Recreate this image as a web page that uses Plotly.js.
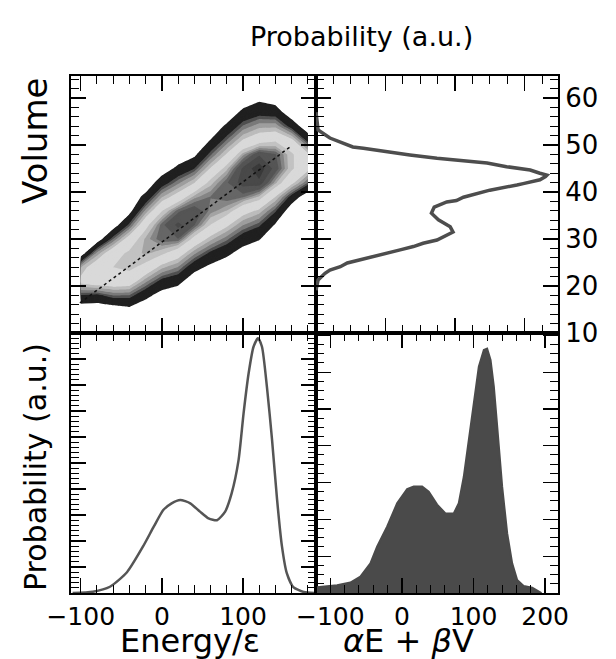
<!DOCTYPE html>
<html>
<head>
<meta charset="utf-8">
<script src="https://cdn.plot.ly/plotly-3.0.1.min.js"></script>
<style>
html,body{margin:0;padding:0;background:#fff;}
#chart{width:616px;height:659px;}
</style>
</head>
<body>
<div id="chart"></div>
<script>
// ---------- DATA ----------
// Top-left: 2D probability map (contour), Energy (columns) x Volume (rows)
const gridEnergy = [-100, -80, -60, -40, -20, 0, 20, 40, 60, 80, 100, 120, 140, 160, 180];
const gridVolume = [12, 15, 18, 21, 24, 27, 30, 33, 36, 39, 42, 45, 48, 51, 54, 57, 60, 63];
const densityMap = [
  [0,0,0,0,0,0,0,0,0,0,0,0,0,0,0],
  [0,0,0.16,0.59,0,0,0,0,0,0,0,0,0,0,0],
  [2.41,2.17,3.0,2.95,1.42,0.4,0,0,0,0,0,0,0,0,0],
  [5.47,6.14,6.24,6.0,3.8,2.06,1.47,0,0,0,0,0,0,0,0],
  [4.22,6.26,6.8,7.08,6.36,4.52,3.55,1.55,0.64,0,0,0,0,0,0],
  [0,3.83,6.24,7.04,7.64,7.09,5.89,3.78,2.24,1.37,0.36,0,0,0,0],
  [0,0,3.0,5.81,7.64,8.64,8.69,6.34,4.52,3.18,1.73,1.09,0,0,0],
  [0,0,0.16,2.74,6.36,8.53,9.6,8.77,6.77,5.29,3.63,2.68,0.84,0,0],
  [0,0,0,0.45,3.8,6.75,8.56,9.23,8.16,7.47,5.67,4.72,2.64,0,0],
  [0,0,0,0,1.42,4.19,5.73,7.72,8.32,8.67,8.4,7.42,5.02,1.99,0],
  [0,0,0,0,0,1.82,3.39,4.93,7.26,8.62,9.79,9.94,7.68,5.39,2.95],
  [0,0,0,0,0,0.18,1.37,2.47,5.12,7.35,9.58,10.57,9.12,7.03,5.42],
  [0,0,0,0,0,0,0,0.67,2.85,5.15,7.76,9.31,8.76,7.03,5.31],
  [0,0,0,0,0,0,0,0,1.05,3.04,5.13,6.16,6.61,5.39,2.11],
  [0,0,0,0,0,0,0,0,0,1.28,3.09,4.04,4.07,1.99,0],
  [0,0,0,0,0,0,0,0,0,0,1.36,2.0,1.79,0,0],
  [0,0,0,0,0,0,0,0,0,0,0,0.64,0.2,0,0],
  [0,0,0,0,0,0,0,0,0,0,0,0,0,0,0]
];
// dotted guide line in the 2D map
const guideEnergy = [-101, 158];
const guideVolume = [16.4, 49.6];

// Top-right: volume distribution
const volumeValues = [57.0,55.3,53.2,51.5,51.1,49.6,49.3,48.5,47.9,47.2,46.8,46.2,45.4,44.7,44.0,43.6,43.3,42.6,41.8,41.5,40.4,40.0,38.9,38.2,37.9,36.8,35.5,34.1,32.6,31.5,30.4,29.8,29.1,28.4,27.7,27.0,26.2,25.5,24.9,24.1,23.4,22.7,21.3,19.1];
const volumeProb   = [0.00,0.01,0.03,0.20,0.27,0.53,0.68,1.02,1.35,1.74,2.07,2.46,2.74,3.08,3.22,3.32,3.30,3.22,2.98,2.89,2.50,2.40,2.12,2.02,1.88,1.70,1.66,1.76,1.93,1.97,1.83,1.74,1.54,1.40,1.21,1.02,0.78,0.63,0.45,0.35,0.20,0.13,0.03,0.00];

// Bottom-left: energy distribution
const energyValues = [-110,-85,-64,-43,-23,-10,2,12,22.6,35,47,57.5,68,78,86,94.5,100.7,107,113,118.5,123.4,129.6,135.8,142,148,154,162,174.8,188];
const energyProb   = [0,0.005,0.024,0.08,0.18,0.255,0.32,0.345,0.358,0.345,0.313,0.287,0.28,0.313,0.383,0.51,0.69,0.846,0.947,0.98,0.947,0.79,0.59,0.36,0.18,0.076,0.023,0.004,0];

// Bottom-right: histogram of alpha*E + beta*V
const comboValues = [-118.6,-90.6,-72,-58,-44,-34.7,-20.7,-6.7,7.3,16.5,28.2,37.5,49.2,60.8,72.4,79.4,86.4,93.4,100.4,107.4,114.4,119,123.8,128.4,133.1,140,147,154,161,170,182,189,195];
const comboProb   = [0.022,0.03,0.04,0.063,0.114,0.178,0.255,0.345,0.40,0.41,0.41,0.39,0.34,0.306,0.306,0.345,0.447,0.588,0.742,0.87,0.935,0.94,0.896,0.794,0.64,0.41,0.23,0.114,0.05,0.027,0.02,0.01,0];

// ---------- STYLE ----------
const FONT = 'DejaVu Sans, Liberation Sans, sans-serif';
// grey bands of the 2D map: [lower level, colour]
const grayBands = [
  [1.0, '#202020'], [2.5, '#505050'], [3.0, '#7a7a7a'], [3.6, '#9e9e9e'],
  [4.3, '#bcbcbc'], [5.0, '#d9d9d9'], [6.8, '#c2c2c2'], [7.5, '#a4a4a4'],
  [7.9, '#858585'], [8.3, '#666666'], [8.7, '#555555'], [9.4, '#494949'], [10.1, '#3a3a3a']
];
const cStart = 1, cSize = 0.1, cEnd = 11;
const nLevels = Math.round((cEnd - cStart) / cSize) + 1;
const grayScale = [[0, '#ffffff']];
for (let k = 0; k < nLevels; k++) {
  const lv = cStart + k * cSize + 1e-9;
  let col = grayBands[0][1];
  for (const b of grayBands) { if (lv >= b[0]) col = b[1]; }
  grayScale.push([(k + 1) / nLevels, col]);
}

const traces = [
  {
    type: 'contour', x: gridEnergy, y: gridVolume, z: densityMap,
    xaxis: 'x', yaxis: 'y',
    autocontour: false,
    contours: {start: cStart, end: cEnd, size: cSize, coloring: 'fill', showlines: false},
    line: {width: 0, smoothing: 0},
    colorscale: grayScale, showscale: false, hoverinfo: 'skip'
  },
  {
    type: 'scatter', mode: 'lines', x: guideEnergy, y: guideVolume,
    xaxis: 'x', yaxis: 'y',
    line: {color: '#111111', width: 1.5, dash: 'dot'}, hoverinfo: 'skip'
  },
  {
    type: 'scatter', mode: 'lines', x: volumeProb, y: volumeValues,
    xaxis: 'x2', yaxis: 'y2',
    line: {color: '#4d4d4d', width: 3.5}, hoverinfo: 'skip'
  },
  {
    type: 'scatter', mode: 'lines', x: energyValues, y: energyProb,
    xaxis: 'x3', yaxis: 'y3',
    line: {color: '#555555', width: 2.5, shape: 'spline', smoothing: 0.6}, hoverinfo: 'skip'
  },
  {
    type: 'scatter', mode: 'lines', x: comboValues, y: comboProb,
    xaxis: 'x4', yaxis: 'y4', fill: 'tozeroy', fillcolor: '#4a4a4a',
    line: {color: '#4a4a4a', width: 2}, hoverinfo: 'skip'
  }
];

const W = 616, H = 659;
const xL = [71/W, 316/W], xR = [316/W, 558/W];
const yT = [1 - 333/H, 1 - 76/H], yB = [1 - 593/H, 1 - 333/H];

function ax(extra) {
  return Object.assign({
    showline: true, linecolor: '#000', linewidth: 2, mirror: 'ticks',
    ticks: 'inside', ticklen: 15, tickwidth: 1.3, tickcolor: '#000',
    showgrid: false, zeroline: false, showticklabels: false,
    tickfont: {family: FONT, size: 25, color: '#000'},
    fixedrange: true
  }, extra);
}
function minor(d) {
  return {dtick: d, ticks: 'inside', ticklen: 8, tickwidth: 1, tickcolor: '#000', showgrid: false};
}

const layout = {
  width: W, height: H,
  margin: {l: 0, r: 0, t: 0, b: 0},
  paper_bgcolor: '#fff', plot_bgcolor: '#fff',
  showlegend: false,
  xaxis:  ax({domain: xL, anchor: 'y',  range: [-112, 190], tick0: 0, dtick: 100, minor: minor(20)}),
  yaxis:  ax({domain: yT, anchor: 'x',  range: [10, 64.7], tick0: 0, dtick: 10, minor: minor(2)}),
  xaxis2: ax({domain: xR, anchor: 'y2', range: [0, 3.48], tick0: 0, dtick: 1, minor: minor(0.25)}),
  yaxis2: ax({domain: yT, anchor: 'x2', range: [10, 64.7], tick0: 0, dtick: 10, minor: minor(2),
              side: 'right', showticklabels: true, tickfont: {family: FONT, size: 26, color: '#000'}}),
  xaxis3: ax({domain: xL, anchor: 'y3', range: [-112, 190], tick0: 0, dtick: 100, minor: minor(20),
              showticklabels: true}),
  yaxis3: ax({domain: yB, anchor: 'x3', range: [0, 1.0], tick0: 0, dtick: 0.1, minor: minor(0.02)}),
  xaxis4: ax({domain: xR, anchor: 'y4', range: [-120, 218], tick0: 0, dtick: 100, minor: minor(20),
              showticklabels: true}),
  yaxis4: ax({domain: yB, anchor: 'x4', range: [0, 1.0], tick0: 0, dtick: 0.1415, minor: minor(0.0354)}),
  annotations: [
    {text: 'Volume', xref: 'paper', yref: 'paper', x: 35/W, y: 1 - 141/H, textangle: -90,
     showarrow: false, font: {family: FONT, size: 34, color: '#000'}, xanchor: 'center', yanchor: 'middle'},
    {text: 'Probability (a.u.)', xref: 'paper', yref: 'paper', x: 35/W, y: 1 - 467/H, textangle: -90,
     showarrow: false, font: {family: FONT, size: 30, color: '#000'}, xanchor: 'center', yanchor: 'middle'},
    {text: 'Probability (a.u.)', xref: 'paper', yref: 'paper', x: 361/W, y: 1 - 36/H,
     showarrow: false, font: {family: FONT, size: 27, color: '#000'}, xanchor: 'center', yanchor: 'middle'},
    {text: 'Energy/ε', xref: 'paper', yref: 'paper', x: 190/W, y: 1 - 641/H,
     showarrow: false, font: {family: FONT, size: 32, color: '#000'}, xanchor: 'center', yanchor: 'middle'},
    {text: '<i>α</i>E + <i>β</i>V', xref: 'paper', yref: 'paper', x: 408/W, y: 1 - 641/H,
     showarrow: false, font: {family: FONT, size: 32, color: '#000'}, xanchor: 'center', yanchor: 'middle'}
  ]
};

Plotly.newPlot('chart', traces, layout, {staticPlot: true, displayModeBar: false});
</script>
</body>
</html>
